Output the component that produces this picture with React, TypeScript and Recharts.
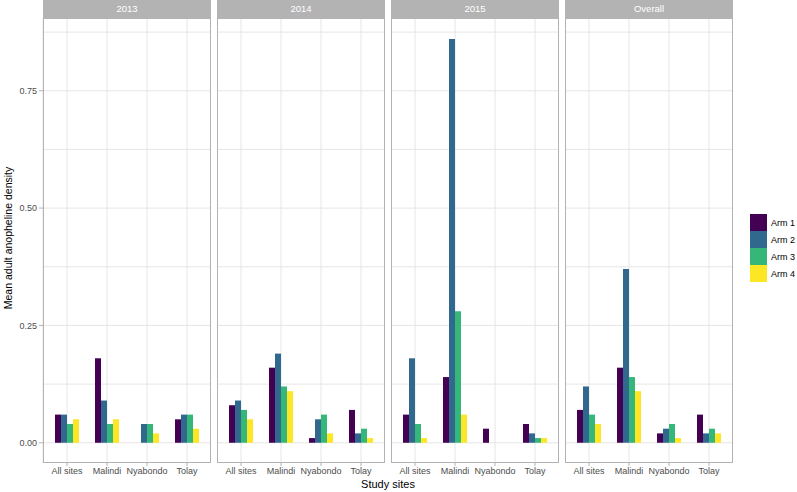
import React from "react";
import { BarChart, Bar, XAxis, YAxis, CartesianGrid } from "recharts";

const sites = ["All sites", "Malindi", "Nyabondo", "Tolay"];
const panelNames = ["2013", "2014", "2015", "Overall"];
const armNames = ["Arm 1", "Arm 2", "Arm 3", "Arm 4"];
const armColors = ["#440154", "#31688E", "#35B779", "#FDE725"];
const yTicks = [0, 0.25, 0.5, 0.75];
const yGrid = [0, 0.125, 0.25, 0.375, 0.5, 0.625, 0.75, 0.875];

// values per site: All sites, Malindi, Nyabondo, Tolay
const arm1_2013 = [0.06, 0.18, 0, 0.05];
const arm2_2013 = [0.06, 0.09, 0.04, 0.06];
const arm3_2013 = [0.04, 0.04, 0.04, 0.06];
const arm4_2013 = [0.05, 0.05, 0.02, 0.03];

const arm1_2014 = [0.08, 0.16, 0.01, 0.07];
const arm2_2014 = [0.09, 0.19, 0.05, 0.02];
const arm3_2014 = [0.07, 0.12, 0.06, 0.03];
const arm4_2014 = [0.05, 0.11, 0.02, 0.01];

const arm1_2015 = [0.06, 0.14, 0.03, 0.04];
const arm2_2015 = [0.18, 0.86, 0, 0.02];
const arm3_2015 = [0.04, 0.28, 0, 0.01];
const arm4_2015 = [0.01, 0.06, 0, 0.01];

const arm1_overall = [0.07, 0.16, 0.02, 0.06];
const arm2_overall = [0.12, 0.37, 0.03, 0.02];
const arm3_overall = [0.06, 0.14, 0.04, 0.03];
const arm4_overall = [0.04, 0.11, 0.01, 0.02];

const panelSeries = [
  [arm1_2013, arm2_2013, arm3_2013, arm4_2013],
  [arm1_2014, arm2_2014, arm3_2014, arm4_2014],
  [arm1_2015, arm2_2015, arm3_2015, arm4_2015],
  [arm1_overall, arm2_overall, arm3_overall, arm4_overall],
];

const buildData = (series: number[][]) =>
  sites.map((s, i) => ({
    site: s,
    a1: series[0][i],
    a2: series[1][i],
    a3: series[2][i],
    a4: series[3][i],
  }));

const FONT = "'Liberation Sans', Arial, sans-serif";
const PANEL_W = 168;
const PANEL_TOP = 18;
const PANEL_H = 445;
const YAXIS_W = 43;
const panelLefts = [43, 217, 391, 565];
const Y_DOMAIN: [number, number] = [-0.0431, 0.905];

function Panel({ idx }: { idx: number }) {
  const first = idx === 0;
  const data = buildData(panelSeries[idx]);
  const left = panelLefts[idx] - (first ? YAXIS_W : 0);
  const width = PANEL_W + (first ? YAXIS_W : 0);
  return (
    <div style={{ position: "absolute", left, top: PANEL_TOP }}>
      <BarChart
        width={width}
        height={PANEL_H + 22}
        data={data}
        margin={{ top: 0, right: 0, bottom: 0, left: 0 }}
        barCategoryGap={8}
        barGap={0}
      >
        <CartesianGrid
          stroke="#E6E6E6"
          horizontalValues={yGrid}
          vertical={true}
          horizontal={true}
        />
        <XAxis
          dataKey="site"
          type="category"
          interval={0}
          padding={{ left: 4, right: 4 }}
          height={22}
          axisLine={false}
          tickLine={{ stroke: "#B3B3B3" }}
          tickSize={3}
          tickMargin={2}
          tick={{ fontSize: 9, fill: "#4D4D4D", fontFamily: FONT }}
        />
        <YAxis
          hide={!first}
          type="number"
          domain={Y_DOMAIN}
          allowDataOverflow
          ticks={yTicks}
          width={YAXIS_W}
          axisLine={false}
          tickLine={{ stroke: "#B3B3B3" }}
          tickSize={4}
          tickMargin={2}
          tickFormatter={(v: number) => v.toFixed(2)}
          tick={{ fontSize: 9, fill: "#4D4D4D", fontFamily: FONT }}
        />
        {["a1", "a2", "a3", "a4"].map((k, i) => (
          <Bar
            key={k}
            dataKey={k}
            fill={armColors[i]}
            barSize={6}
            isAnimationActive={false}
          />
        ))}
      </BarChart>
      <div
        style={{
          position: "absolute",
          left: first ? YAXIS_W : 0,
          top: 0,
          width: PANEL_W,
          height: PANEL_H,
          border: "1px solid #B3B3B3",
          boxSizing: "border-box",
          pointerEvents: "none",
        }}
      />
    </div>
  );
}

export default function App() {
  return (
    <div
      style={{
        position: "absolute",
        left: 0,
        top: 0,
        width: 797,
        height: 492,
        background: "#fff",
        fontFamily: FONT,
        overflow: "hidden",
      }}
    >
      {panelNames.map((p, i) => (
        <div
          key={p}
          style={{
            position: "absolute",
            left: panelLefts[i],
            top: 0,
            width: PANEL_W,
            height: PANEL_TOP,
            background: "#B3B3B3",
            color: "#fff",
            fontSize: 9.5,
            lineHeight: `${PANEL_TOP}px`,
            textAlign: "center",
          }}
        >
          {p}
        </div>
      ))}
      {panelNames.map((p, i) => (
        <Panel key={p} idx={i} />
      ))}
      <div
        style={{
          position: "absolute",
          left: 8,
          top: 238,
          transform: "translate(-50%, -50%) rotate(-90deg)",
          whiteSpace: "nowrap",
          fontSize: 10.5,
          color: "#000",
        }}
      >
        Mean adult anopheline density
      </div>
      <div
        style={{
          position: "absolute",
          left: 388,
          top: 484,
          transform: "translate(-50%, -50%)",
          whiteSpace: "nowrap",
          fontSize: 11,
          color: "#000",
        }}
      >
        Study sites
      </div>
      <div style={{ position: "absolute", left: 750, top: 214 }}>
        {armNames.map((a, i) => (
          <div key={a} style={{ display: "flex", alignItems: "center", height: 17 }}>
            <div style={{ width: 17, height: 17, background: armColors[i] }} />
            <span style={{ marginLeft: 4, fontSize: 9, color: "#000" }}>{a}</span>
          </div>
        ))}
      </div>
    </div>
  );
}
